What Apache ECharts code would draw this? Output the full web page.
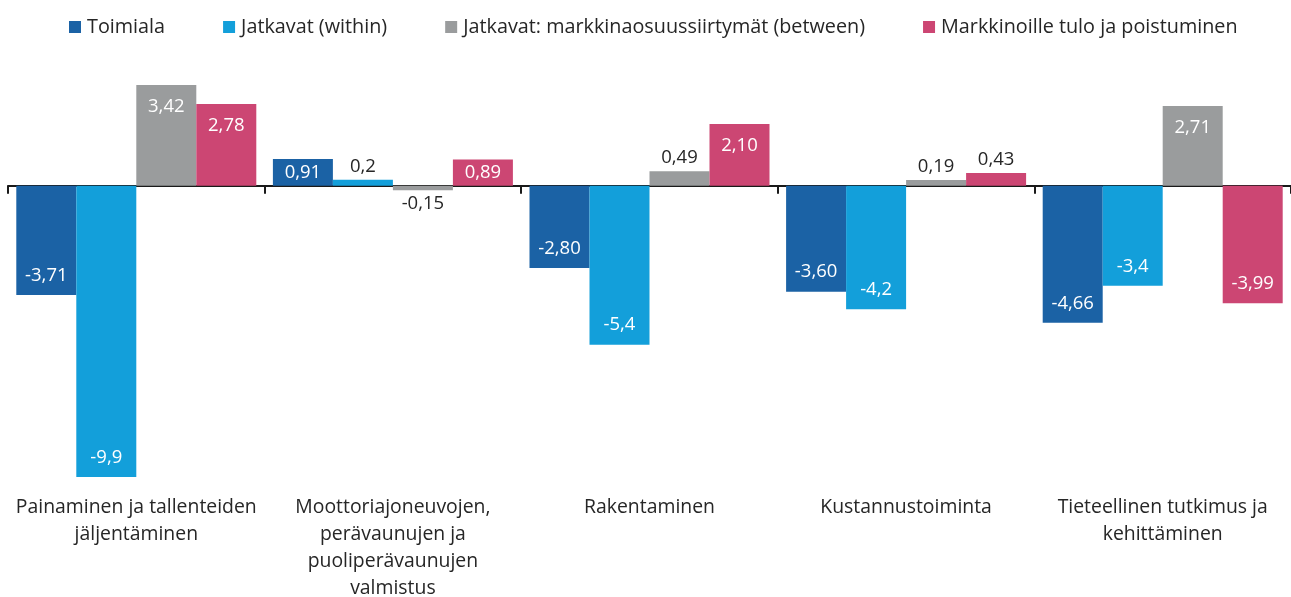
<!DOCTYPE html>
<html>
<head>
<meta charset="utf-8">
<script src="https://cdn.jsdelivr.net/npm/echarts@6/dist/echarts.min.js"></script>
<style>
html, body { margin: 0; padding: 0; background: #fff; }
#main { width: 1291px; height: 597px; }
</style>
</head>
<body>
<div id="main"></div>
<script>
// data
var categories = [
    'Painaminen ja tallenteiden\njäljentäminen',
    'Moottoriajoneuvojen,\nperävaunujen ja\npuoliperävaunujen\nvalmistus',
    'Rakentaminen',
    'Kustannustoiminta',
    'Tieteellinen tutkimus ja\nkehittäminen'
];
var seriesNames = [
    'Toimiala',
    'Jatkavat (within)',
    'Jatkavat: markkinaosuussiirtymät (between)',
    'Markkinoille tulo ja poistuminen'
];
var toimiala = [-3.71, 0.91, -2.80, -3.60, -4.66];
var within = [-9.9, 0.2, -5.4, -4.2, -3.4];
var between = [3.42, -0.15, 0.49, 0.19, 2.71];
var tuloPoistuminen = [2.78, 0.89, 2.10, 0.43, -3.99];
var decimals = [2, 1, 2, 2];

var colors = ['#1b62a5', '#139fda', '#9a9c9d', '#cc4673'];
var font = '"Open Sans", "Noto Sans", sans-serif';

// label placement: tiny bars get the value outside, mid ones centred, big ones at the end
function labelFor(v) {
    var a = Math.abs(v);
    if (a < 0.6) return { position: v >= 0 ? 'top' : 'bottom', distance: 4, color: '#262626' };
    if (a < 1.2) return { position: 'inside', distance: 0, color: '#ffffff' };
    return { position: v >= 0 ? 'insideTop' : 'insideBottom', distance: v >= 0 ? 12 : 10, color: '#ffffff' };
}

function makeSeries(name, values, dec, idx) {
    return {
        name: name,
        type: 'bar',
        barWidth: 60,
        barGap: '0%',
        itemStyle: { color: colors[idx] },
        data: values.map(function (v) {
            var l = labelFor(v);
            return {
                value: v,
                label: {
                    show: true,
                    position: l.position,
                    distance: l.distance,
                    color: l.color,
                    fontSize: 18.5,
                    fontFamily: font,
                    formatter: function () { return v.toFixed(dec).replace('.', ','); }
                }
            };
        })
    };
}

var myChart = echarts.init(document.getElementById('main'));
var option = {
    animation: false,
    color: colors,
    legend: {
        top: 12,
        left: 64,
        itemWidth: 12,
        itemHeight: 12,
        itemGap: 58,
        icon: 'rect',
        textStyle: { fontSize: 19.8, color: '#262626', fontFamily: font, padding: [0, 0, 0, 1] },
        data: seriesNames
    },
    grid: { left: 8, right: 0, top: 68, bottom: 117, outerBoundsMode: 'none', containLabel: false },
    xAxis: [
        {
            type: 'category',
            data: categories,
            axisLine: { onZero: true, lineStyle: { color: '#1a1a1a', width: 2 } },
            axisTick: { show: true, length: 8, lineStyle: { color: '#1a1a1a', width: 2 } },
            axisLabel: { show: false }
        },
        {
            type: 'category',
            data: categories,
            position: 'bottom',
            axisLine: { show: false },
            axisTick: { show: false },
            axisLabel: {
                interval: 0,
                margin: 14,
                fontSize: 19.4,
                lineHeight: 27,
                color: '#262626',
                fontFamily: font,
                align: 'center'
            }
        }
    ],
    yAxis: {
        type: 'value',
        min: -10,
        max: 4,
        show: false,
        splitLine: { show: false }
    },
    series: [
        makeSeries(seriesNames[0], toimiala, decimals[0], 0),
        makeSeries(seriesNames[1], within, decimals[1], 1),
        makeSeries(seriesNames[2], between, decimals[2], 2),
        makeSeries(seriesNames[3], tuloPoistuminen, decimals[3], 3)
    ]
};
myChart.setOption(option);
</script>
</body>
</html>
